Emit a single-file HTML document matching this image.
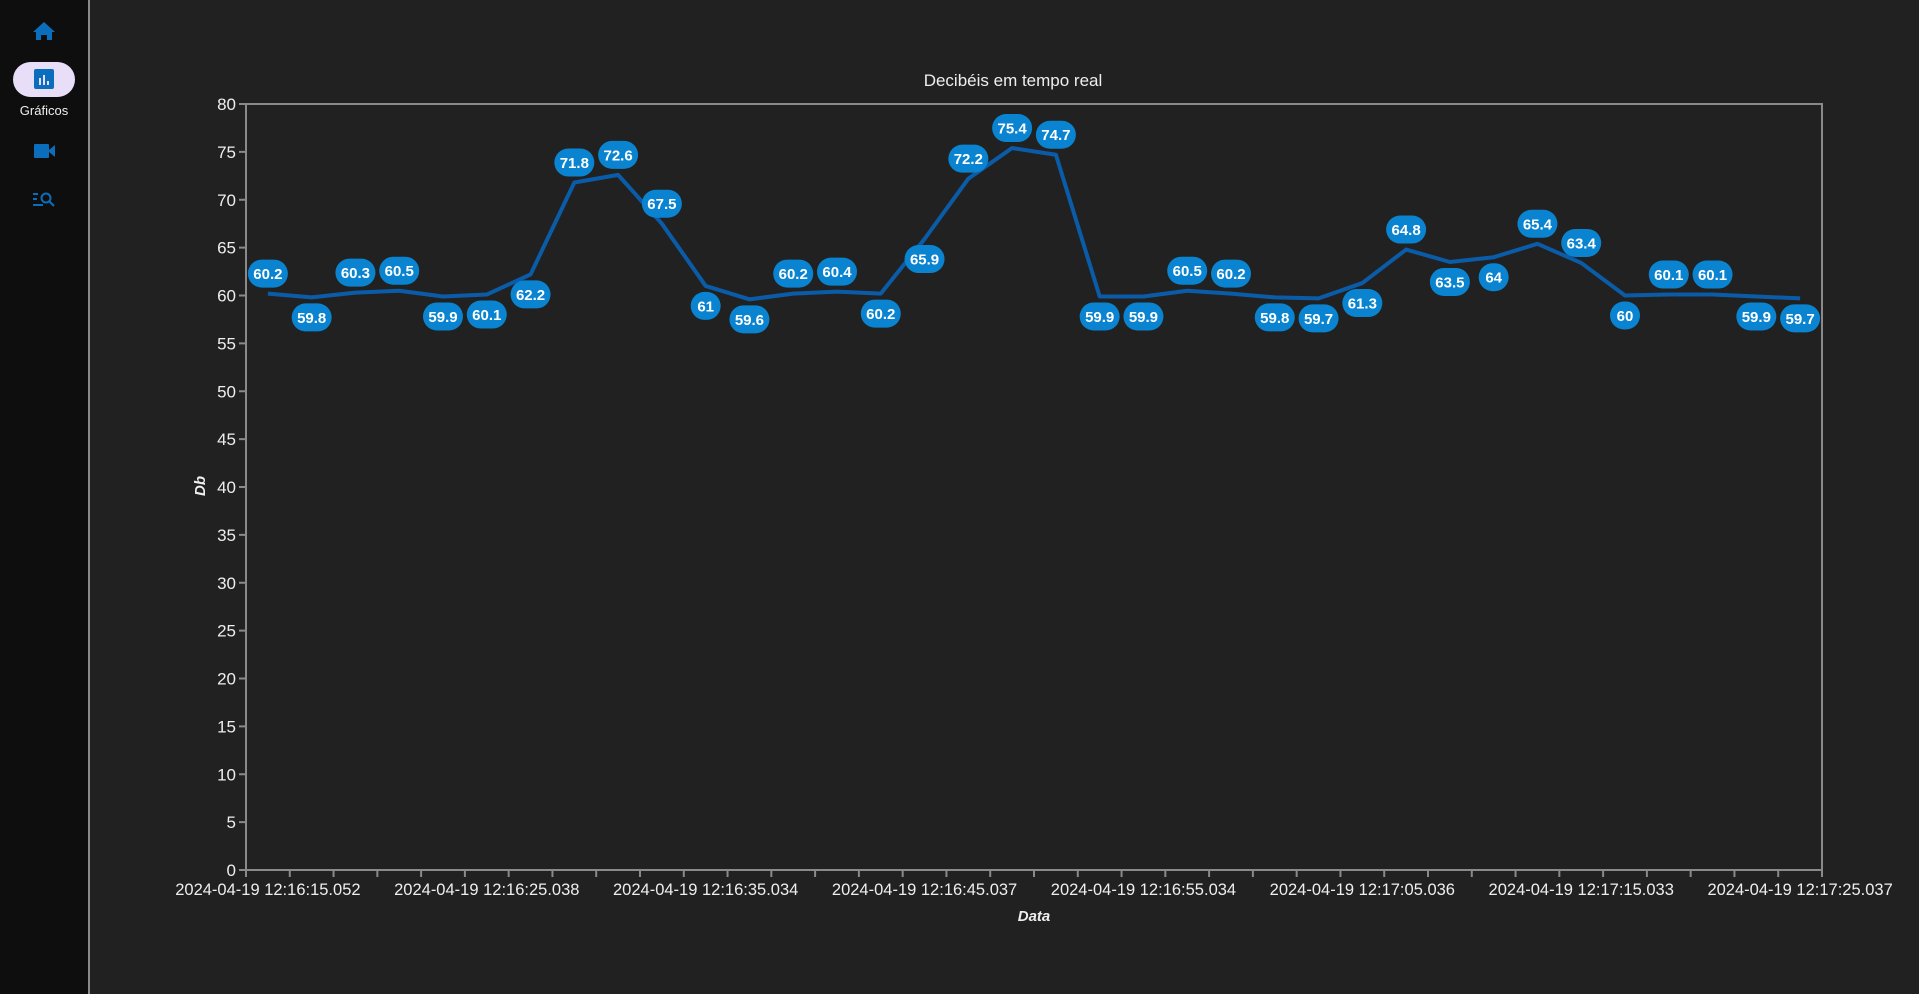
<!DOCTYPE html>
<html><head><meta charset="utf-8"><style>
html,body{margin:0;padding:0;width:1919px;height:994px;background:#212121;overflow:hidden;font-family:"Liberation Sans",sans-serif}
#side{position:absolute;left:0;top:0;width:88px;height:994px;background:#0e0e0e;border-right:2px solid #8a8a8a}
</style></head><body>
<div id="side">
<svg width="88" height="260">
<g><path d="M44 22 L33 32 L36 32 L36 40 L41 40 L41 35 L47 35 L47 40 L52 40 L52 32 L55 32 Z" fill="#0a6ebd"/></g>
<rect x="13" y="62" width="62" height="35" rx="17.5" fill="#e8def8"/>
<rect x="34" y="69" width="20" height="20" rx="2" fill="#0a6ebd"/>
<rect x="39" y="78" width="2" height="7" fill="#e8def8"/><rect x="43" y="75" width="2" height="10" fill="#e8def8"/><rect x="47" y="81" width="2" height="4" fill="#e8def8"/>
<text x="44" y="115" text-anchor="middle" fill="#eee" font-size="13">Gráficos</text>
<g><rect x="34" y="144" width="15" height="14" rx="1" fill="#0a6ebd"/><path d="M49 150 L55 145 L55 157 L49 152 Z" fill="#0a6ebd"/></g>
<g stroke="#0a6ebd" stroke-width="2" fill="none"><line x1="33" y1="194" x2="38" y2="194"/><line x1="33" y1="199" x2="37" y2="199"/><line x1="33" y1="205" x2="43" y2="205"/><circle cx="46" cy="198" r="4.5"/><line x1="49" y1="201" x2="54" y2="206"/></g>
</svg>
</div>
<svg id="chart" width="1919" height="994" style="position:absolute;left:0;top:0"></svg>
<script>
const categories=["2024-04-19 12:16:15.052","2024-04-19 12:16:17.040","2024-04-19 12:16:19.036","2024-04-19 12:16:21.041","2024-04-19 12:16:23.035","2024-04-19 12:16:25.038","2024-04-19 12:16:27.039","2024-04-19 12:16:29.035","2024-04-19 12:16:31.040","2024-04-19 12:16:33.036","2024-04-19 12:16:35.034","2024-04-19 12:16:37.038","2024-04-19 12:16:39.035","2024-04-19 12:16:41.037","2024-04-19 12:16:43.036","2024-04-19 12:16:45.037","2024-04-19 12:16:47.035","2024-04-19 12:16:49.038","2024-04-19 12:16:51.036","2024-04-19 12:16:53.035","2024-04-19 12:16:55.034","2024-04-19 12:16:57.036","2024-04-19 12:16:59.035","2024-04-19 12:17:01.037","2024-04-19 12:17:03.034","2024-04-19 12:17:05.036","2024-04-19 12:17:07.035","2024-04-19 12:17:09.037","2024-04-19 12:17:11.034","2024-04-19 12:17:13.036","2024-04-19 12:17:15.033","2024-04-19 12:17:17.036","2024-04-19 12:17:19.035","2024-04-19 12:17:21.037","2024-04-19 12:17:23.034","2024-04-19 12:17:25.037"];
const values=[60.2,59.8,60.3,60.5,59.9,60.1,62.2,71.8,72.6,67.5,61,59.6,60.2,60.4,60.2,65.9,72.2,75.4,74.7,59.9,59.9,60.5,60.2,59.8,59.7,61.3,64.8,63.5,64,65.4,63.4,60,60.1,60.1,59.9,59.7];
const labelAlign=["t","b","t","t","b","b","b","t","t","t","b","b","t","t","b","b","t","t","t","b","b","t","t","b","b","b","t","b","b","t","t","b","t","t","b","b"];
const yTicks=[0,5,10,15,20,25,30,35,40,45,50,55,60,65,70,75,80];
const L=246,R=1822,T=104,B=870,yMax=80;
const n=categories.length,bw=(R-L)/n;
const xs=i=>L+bw*(i+0.5), ys=v=>B-(v/yMax)*(B-T);
const svg=document.getElementById('chart');const NS='http://www.w3.org/2000/svg';
function mk(t,a,p){const e=document.createElementNS(NS,t);for(const k in a)e.setAttribute(k,a[k]);(p||svg).appendChild(e);return e;}
const title=mk('text',{x:1013,y:86,'text-anchor':'middle',fill:'#eee','font-size':17});title.textContent='Decibéis em tempo real';


const axes=mk('path',{d:`M${L} ${T} H${R} V${B} H${L} Z`,fill:'none',stroke:'#8a8a8a','stroke-width':2});


yTicks.forEach(v=>{const y=ys(v);
 mk('line',{x1:L-7,x2:L,y1:y,y2:y,stroke:'#8a8a8a','stroke-width':2});
 const t=mk('text',{x:L-10,y:y+6,'text-anchor':'end',fill:'#eee','font-size':17});t.textContent=v;
 
 });
for(let i=0;i<=n;i++){const x=L+bw*i;mk('line',{x1:x,x2:x,y1:B,y2:B+7,stroke:'#8a8a8a','stroke-width':2});}
categories.forEach((c,i)=>{if(i%5)return;const t=mk('text',{x:xs(i),y:895,'text-anchor':'middle',fill:'#eee','font-size':16.5});t.textContent=c;
 
 });
const yt=mk('text',{x:0,y:0,transform:`translate(205 486) rotate(-90)`,'text-anchor':'middle',fill:'#eee','font-size':15,'font-weight':'bold','font-style':'italic'});yt.textContent='Db';


const xt=mk('text',{x:1034,y:921,'text-anchor':'middle',fill:'#eee','font-size':15,'font-weight':'bold','font-style':'italic'});xt.textContent='Data';


const line=mk('polyline',{points:values.map((v,i)=>xs(i)+','+ys(v)).join(' '),fill:'none',stroke:'#0b5ca8','stroke-width':4,'stroke-linejoin':'round'});


values.forEach((v,i)=>{const cy=ys(v)+(labelAlign[i]==='t'?-20:20);const s=String(v);const w=s.length<3?30:40;
 const g=mk('g',{});
 
 
 mk('rect',{x:xs(i)-w/2,y:cy-14,width:w,height:28,rx:14,fill:'#0a84d0'},g);
 const t=mk('text',{x:xs(i),y:cy+5.5,'text-anchor':'middle',fill:'#fff','font-size':15,'font-weight':'bold'},g);t.textContent=s;});
</script>
</body></html>
